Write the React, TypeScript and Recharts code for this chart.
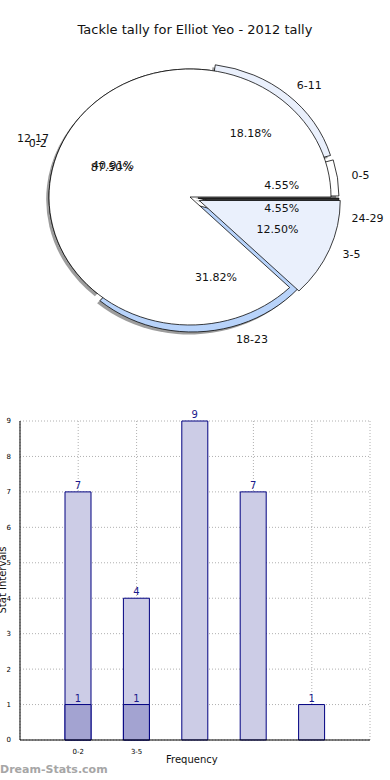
import { PieChart, Pie, Cell, BarChart, Bar, XAxis, YAxis, CartesianGrid, LabelList } from 'recharts';

// pie 1: tackle intervals
const tackleNames = ['0-5', '6-11', '12-17', '18-23', '24-29'];
const tackleValues = [1, 4, 9, 7, 1];
// pie 2: stat intervals
const statNames = ['0-2', '3-5'];
const statValues = [7, 1];
// bar chart
const barTicks = ['0-2', '3-5', '', '', ''];
const freqMain = [7, 4, 9, 7, 1];
const freqLow = [1, 1, null, null, null];
const yTicks = [0, 1, 2, 3, 4, 5, 6, 7, 8, 9];

const tackleColors = ['#ffffff', '#eaf0fc', '#ffffff', '#b8d3fa', '#333333'];
const statColors = ['#ffffff', '#eaf0fc'];
const tackleExplode = [8, 8, 0, 8, 8];
const statExplode = [0, 10];

const RAD = Math.PI / 180;
const CX = 190;
const CY = 197;
const R = 141;
const K = 128 / 141; // matplotlib axes were not square -> ellipse
const FONT = '"DejaVu Sans", sans-serif';

const midAngles = (vals: number[]) => {
  const total = vals.reduce((a, b) => a + b, 0);
  let acc = 0;
  return vals.map((v) => {
    const m = (360 * (acc + v / 2)) / total;
    acc += v;
    return m;
  });
};

const sliceTransform = (mid: number, d: number, sx = 0, sy = 0) => {
  const ex = d * Math.cos(mid * RAD) + sx;
  const ey = -d * Math.sin(mid * RAD) + sy;
  return `translate(0 ${CY}) scale(1 ${K}) translate(0 ${-CY}) translate(${ex} ${ey})`;
};

const makeLabel = (names: string[], explode: number[]) => (p: any) => {
  const mid = p.midAngle;
  const i = p.index;
  const c = Math.cos(mid * RAD);
  const s = Math.sin(mid * RAD);
  const ex = explode[i] * c;
  const ey = -explode[i] * s;
  const lx = CX + ex + 1.1 * R * c;
  const ly = CY + (ey - 1.1 * R * s) * K;
  const px = CX + ex + 0.6 * R * c;
  const py = CY + (ey - 0.6 * R * s) * K;
  return (
    <g key={`lbl-${names[i]}-${i}`}>
      <text x={lx} y={ly} textAnchor={c > 0 ? 'start' : 'end'} dominantBaseline="central" fontSize={11} fontFamily={FONT} fill="#111">
        {names[i]}
      </text>
      <text x={px} y={py} textAnchor="middle" dominantBaseline="central" fontSize={11} fontFamily={FONT} fill="#111">
        {(p.percent * 100).toFixed(2)}%
      </text>
    </g>
  );
};

export default function App() {
  const tackleData = tackleNames.map((name, i) => ({ name, value: tackleValues[i] }));
  const statData = statNames.map((name, i) => ({ name, value: statValues[i] }));
  const tackleMid = midAngles(tackleValues);
  const statMid = midAngles(statValues);
  const barData = freqMain.map((v, i) => ({ slot: i, main: v, low: freqLow[i] }));

  return (
    <div style={{ position: 'absolute', left: 0, top: 0, width: 390, height: 780, background: '#fff', fontFamily: FONT }}>
      <div style={{ position: 'absolute', top: 21, width: 390, textAlign: 'center', fontSize: 13, lineHeight: '18px', color: '#111' }}>
        Tackle tally for Elliot Yeo - 2012 tally
      </div>
      <div style={{ position: 'absolute', top: 0, left: 0 }}>
        <PieChart width={390} height={370} margin={{ top: 0, right: 0, bottom: 0, left: 0 }}>
          {/* shadow */}
          <Pie data={tackleData} dataKey="value" nameKey="name" cx={CX} cy={CY} outerRadius={R} startAngle={0} endAngle={360} stroke="none" isAnimationActive={false}>
            {tackleData.map((d, i) => (
              <Cell key={`s-${d.name}`} fill="#4d4d4d" fillOpacity={0.55} transform={sliceTransform(tackleMid[i], tackleExplode[i], -2.8, 2.8)} />
            ))}
          </Pie>
          <Pie data={tackleData} dataKey="value" nameKey="name" cx={CX} cy={CY} outerRadius={R} startAngle={0} endAngle={360} stroke="#000" strokeWidth={0.8} isAnimationActive={false}>
            {tackleData.map((d, i) => (
              <Cell key={`t-${d.name}`} fill={tackleColors[i]} stroke="#000" strokeWidth={0.8} transform={sliceTransform(tackleMid[i], tackleExplode[i])} />
            ))}
          </Pie>
          <Pie data={statData} dataKey="value" nameKey="name" cx={CX} cy={CY} outerRadius={R} startAngle={0} endAngle={360} stroke="#000" strokeWidth={0.8} isAnimationActive={false} labelLine={false} label={makeLabel(statNames, statExplode)}>
            {statData.map((d, i) => (
              <Cell key={`b-${d.name}`} fill={statColors[i]} stroke="#000" strokeWidth={0.8} transform={sliceTransform(statMid[i], statExplode[i])} />
            ))}
          </Pie>
          {/* labels of first pie drawn on top */}
          <Pie data={tackleData} dataKey="value" nameKey="name" cx={CX} cy={CY} outerRadius={R} startAngle={0} endAngle={360} fill="none" stroke="none" isAnimationActive={false} labelLine={false} label={makeLabel(tackleNames, tackleExplode)}>
            {tackleData.map((d) => (
              <Cell key={`l-${d.name}`} fill="none" stroke="none" />
            ))}
          </Pie>
        </PieChart>
      </div>

      <div style={{ position: 'absolute', top: 400, left: 0 }}>
        <BarChart width={390} height={380} data={barData} margin={{ top: 21, right: 20, bottom: 26, left: 8 }} barGap={-26}>
          <CartesianGrid xAxisId="main" yAxisId="left" stroke="#b0b0b0" strokeDasharray="1 2" />
          <XAxis
            xAxisId="main"
            dataKey="slot"
            type="category"
            height={14}
            padding={{ left: 29, right: 29 }}
            tickFormatter={(v: number) => barTicks[v]}
            tick={{ fontSize: 7, fill: '#000', fontFamily: FONT }}
            tickLine={false}
            tickMargin={3}
            axisLine={{ stroke: '#000' }}
            interval={0}
          />
          <XAxis xAxisId="top" dataKey="slot" orientation="top" height={0} tick={false} tickLine={false} axisLine={{ stroke: '#000' }} />
          <YAxis
            yAxisId="left"
            domain={[0, 9]}
            ticks={yTicks}
            width={12}
            tick={{ fontSize: 7, fill: '#000', fontFamily: FONT }}
            tickLine={false}
            tickMargin={3}
            axisLine={{ stroke: '#000' }}
          />
          <YAxis yAxisId="right" orientation="right" domain={[0, 9]} ticks={yTicks} width={0} tick={false} tickLine={false} axisLine={{ stroke: '#000' }} />
          <Bar xAxisId="main" yAxisId="left" dataKey="main" barSize={26} fill="#ccccE6" stroke="#000080" strokeWidth={1} isAnimationActive={false}>
            <LabelList dataKey="main" position="top" offset={3} fill="#1a1a8c" fontSize={10} fontFamily={FONT} />
          </Bar>
          <Bar xAxisId="main" yAxisId="left" dataKey="low" barSize={26} fill="#a3a3d1" stroke="#000080" strokeWidth={1} isAnimationActive={false}>
            <LabelList dataKey="low" position="top" offset={3} fill="#1a1a8c" fontSize={10} fontFamily={FONT} formatter={(v: any) => (v == null ? '' : v)} />
          </Bar>
        </BarChart>
      </div>

      <div style={{ position: 'absolute', top: 754, left: 166, fontSize: 10, lineHeight: '12px', color: '#111' }}>
        Frequency
      </div>
      <div style={{ position: 'absolute', left: 3, top: 580, transform: 'translate(-50%, -50%) rotate(-90deg)', whiteSpace: 'nowrap', fontSize: 10, lineHeight: '12px', color: '#111' }}>
        Stat Intervals
      </div>
      <div style={{ position: 'absolute', left: 0, top: 763, fontSize: 11, fontWeight: 'bold', lineHeight: '14px', color: '#a6a6a6' }}>
        Dream-Stats.com
      </div>
    </div>
  );
}
